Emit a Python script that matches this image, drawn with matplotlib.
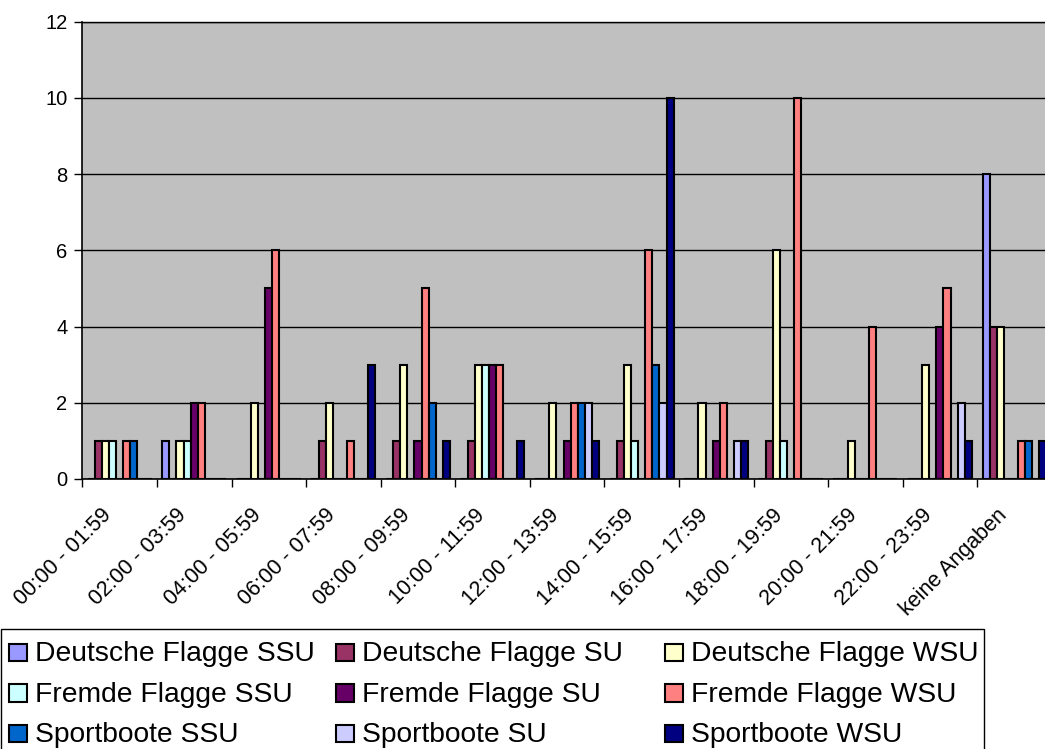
import matplotlib
matplotlib.use("Agg")
import matplotlib.pyplot as plt
import matplotlib.transforms as mtransforms
from matplotlib.patches import Rectangle
import numpy as np

plt.rcParams['font.family'] = ['Liberation Sans', 'DejaVu Sans']

categories = ["00:00 - 01:59", "02:00 - 03:59", "04:00 - 05:59", "06:00 - 07:59",
              "08:00 - 09:59", "10:00 - 11:59", "12:00 - 13:59", "14:00 - 15:59",
              "16:00 - 17:59", "18:00 - 19:59", "20:00 - 21:59", "22:00 - 23:59",
              "keine Angaben"]

deutsche_ssu = [0, 1, 0, 0, 0, 0, 0, 0, 0, 0, 0, 0, 8]
deutsche_su  = [1, 0, 0, 1, 1, 1, 0, 1, 0, 1, 0, 0, 4]
deutsche_wsu = [1, 1, 2, 2, 3, 3, 2, 3, 2, 6, 1, 3, 4]
fremde_ssu   = [1, 1, 0, 0, 0, 3, 0, 1, 0, 1, 0, 0, 0]
fremde_su    = [0, 2, 5, 0, 1, 3, 1, 0, 1, 0, 0, 4, 0]
fremde_wsu   = [1, 2, 6, 1, 5, 3, 2, 6, 2, 10, 4, 5, 1]
sport_ssu    = [1, 0, 0, 0, 2, 0, 2, 3, 0, 0, 0, 0, 1]
sport_su     = [0, 0, 0, 0, 0, 0, 2, 2, 1, 0, 0, 2, 0]
sport_wsu    = [0, 0, 0, 3, 1, 1, 1, 10, 1, 0, 0, 1, 1]

series_names = ["Deutsche Flagge SSU", "Deutsche Flagge SU", "Deutsche Flagge WSU",
                "Fremde Flagge SSU", "Fremde Flagge SU", "Fremde Flagge WSU",
                "Sportboote SSU", "Sportboote SU", "Sportboote WSU"]
series_values = [deutsche_ssu, deutsche_su, deutsche_wsu,
                 fremde_ssu, fremde_su, fremde_wsu,
                 sport_ssu, sport_su, sport_wsu]
series_colors = ["#9999FF", "#993366", "#FFFFCC",
                 "#CCFFFF", "#660066", "#FF8080",
                 "#0066CC", "#CCCCFF", "#000080"]

W, H = 1045, 749
fig = plt.figure(figsize=(W / 100, H / 100), dpi=100)
fig.patch.set_facecolor("white")

# plot area in pixel coordinates (left, top, right, bottom)
px_l, px_t, px_r, px_b = 82.4, 21.7, 1051.8, 479.0
ax = fig.add_axes([px_l / W, 1 - px_b / H, (px_r - px_l) / W, (px_b - px_t) / H])
ax.set_facecolor("#C0C0C0")

n_series = len(series_names)
gap = 1.5
bar_w = 1.0 / (n_series + gap)
x = np.arange(len(categories)) + 0.5
for k, (name, vals, col) in enumerate(zip(series_names, series_values, series_colors)):
    offs = (k - (n_series - 1) / 2) * bar_w
    ax.bar(x + offs, vals, width=bar_w, color=col, edgecolor="black",
           linewidth=1.5, label=name, zorder=3)

ax.set_xlim(0, len(categories))
ax.set_ylim(0, 12)
ax.set_yticks(np.arange(0, 13, 2))
ax.yaxis.grid(True, color="black", linewidth=1.0, zorder=1)
ax.set_axisbelow(True)

ax.spines["right"].set_visible(False)
ax.spines["top"].set_color("black")
ax.spines["top"].set_linewidth(1.0)
ax.spines["left"].set_linewidth(1.2)
ax.spines["bottom"].set_linewidth(1.2)

ax.tick_params(axis="y", direction="out", length=5.8, width=1.0, pad=5, labelsize=14.5)
ax.set_xticks(np.arange(0, len(categories) + 1), minor=True)
ax.tick_params(axis="x", which="minor", direction="out", length=5.5, width=1.0)
ax.set_xticks(x)
ax.set_xticklabels(categories, rotation=45, ha="right", va="center",
                   rotation_mode="anchor", fontsize=15.5)
ax.tick_params(axis="x", which="major", length=0, pad=0)
shift = mtransforms.ScaledTranslation(-0.11, -0.33, fig.dpi_scale_trans)
for lbl in ax.get_xticklabels():
    lbl.set_transform(lbl.get_transform() + shift)

# legend box below the chart, three columns
def fx(px):
    return px / W

def fy(py):
    return 1 - py / H

fig.patches.append(Rectangle((fx(1), fy(760)), fx(984) - fx(1), fy(629) - fy(760),
                             transform=fig.transFigure, facecolor="white",
                             edgecolor="black", linewidth=1.0, zorder=1))
col_x = [9.0, 336.0, 665.0]
row_y = [661.0, 701.5, 742.0]
box = 17.5
for k, (name, col) in enumerate(zip(series_names, series_colors)):
    r, c = divmod(k, 3)
    bx, by = col_x[c], row_y[r]
    fig.patches.append(Rectangle((fx(bx), fy(by)), box / W, box / H,
                                 transform=fig.transFigure, facecolor=col,
                                 edgecolor="black", linewidth=1.5, zorder=2))
    fig.text(fx(bx + 26), fy(by), name, fontsize=20.3, ha="left", va="baseline", zorder=3)

fig.savefig("out.png", dpi=100)
